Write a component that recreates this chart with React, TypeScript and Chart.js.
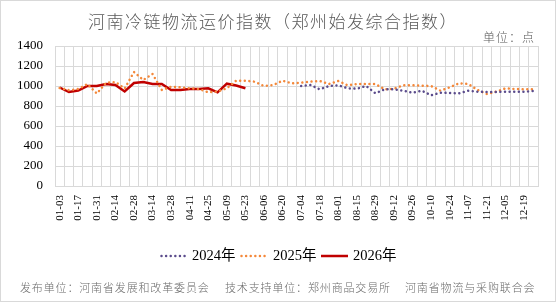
import { useEffect, useRef } from 'react';
import { Chart, registerables } from 'chart.js';

Chart.register(...registerables);

// Weekly categories (month-day)
const weeks = [
  '01-03', '01-10', '01-17', '01-24', '01-31', '02-07', '02-14', '02-21', '02-28', '03-07',
  '03-14', '03-21', '03-28', '04-04', '04-11', '04-18', '04-25', '05-02', '05-09', '05-16',
  '05-23', '05-30', '06-06', '06-13', '06-20', '06-27', '07-04', '07-11', '07-18', '07-25',
  '08-01', '08-08', '08-15', '08-22', '08-29', '09-05', '09-12', '09-19', '09-26', '10-03',
  '10-10', '10-17', '10-24', '10-31', '11-07', '11-14', '11-21', '11-28', '12-05', '12-12',
  '12-19', '12-26',
];

// 2024 index: series begins in July
const index2024 = [
  null, null, null, null, null, null, null, null, null, null,
  null, null, null, null, null, null, null, null, null, null,
  null, null, null, null, null, null,
  1000, 1010, 967, 1000, 1007, 977, 973, 1000, 927, 967,
  967, 953, 933, 953, 907, 933, 930, 927, 953, 943,
  940, 940, 943, 943, 943, 950,
];

const index2025 = [
  980, 958, 970, 1020, 925, 1033, 1040, 975, 1140, 1060,
  1120, 960, 993, 987, 977, 970, 937, 945, 977, 1053,
  1053, 1043, 1000, 1010, 1053, 1027, 1033, 1043, 1050, 1020,
  1050, 1007, 1020, 1020, 1020, 967, 973, 1007, 1007, 1003,
  1000, 953, 987, 1027, 1020, 960, 920, 943, 977, 970,
  967, 967,
];

const index2026 = [
  985, 940, 955, 1000, 1000, 1020, 1010, 945, 1030, 1040,
  1020, 1020, 960, 960, 970, 970, 977, 937, 1023, 1005,
  978,
];

const yTicks = [0, 200, 400, 600, 800, 1000, 1200, 1400];

const titleText = '河南冷链物流运价指数（郑州始发综合指数）';
const unitText = '单位：点';
const footerParts = [
  '发布单位：河南省发展和改革委员会',
  '技术支持单位：郑州商品交易所',
  '河南省物流与采购联合会',
];

const PURPLE = '#5B4C8C';
const ORANGE = '#F4883A';
const RED = '#C00000';
const GRID = '#d9d9d9';
const CJK = '"Noto Sans CJK SC", sans-serif';
const SERIF = '"Liberation Serif", "Times New Roman", "Noto Sans CJK SC", serif';

function drawSpaced(ctx: CanvasRenderingContext2D, text: string, x: number, y: number, advance: number) {
  Array.from(text).forEach((ch, k) => ctx.fillText(ch, x + k * advance, y));
}

const decorations = {
  id: 'decorations',
  beforeDraw(chart: any) {
    const ctx = chart.ctx as CanvasRenderingContext2D;
    ctx.save();
    ctx.fillStyle = '#ffffff';
    ctx.fillRect(0, 0, chart.width, chart.height);
    ctx.restore();
  },
  afterDraw(chart: any) {
    const ctx = chart.ctx as CanvasRenderingContext2D;
    ctx.save();
    ctx.textAlign = 'left';
    ctx.textBaseline = 'middle';

    // title
    ctx.fillStyle = '#595959';
    ctx.font = `300 17px ${CJK}`;
    drawSpaced(ctx, titleText, 88, 22, 18.5);

    // unit
    ctx.fillStyle = '#595959';
    ctx.font = `300 12px ${CJK}`;
    drawSpaced(ctx, unitText, 483, 37, 13);

    // legend
    const ly = 256;
    const items = [
      { label: '2024年', color: PURPLE, dotted: true, x0: 160, x1: 186, tx: 192 },
      { label: '2025年', color: ORANGE, dotted: true, x0: 240, x1: 266, tx: 273 },
      { label: '2026年', color: RED, dotted: false, x0: 321, x1: 348, tx: 353 },
    ];
    items.forEach((it) => {
      ctx.save();
      ctx.strokeStyle = it.color;
      ctx.lineWidth = 2.5;
      if (it.dotted) {
        ctx.lineCap = 'round';
        ctx.setLineDash([0.01, 4.6]);
      }
      ctx.beginPath();
      ctx.moveTo(it.x0 + (it.dotted ? 1.5 : 0), ly);
      ctx.lineTo(it.x1, ly);
      ctx.stroke();
      ctx.restore();
      ctx.fillStyle = '#000000';
      ctx.font = `14.5px ${SERIF}`;
      ctx.fillText(it.label, it.tx, ly);
    });

    // footer
    ctx.fillStyle = '#6a6a6a';
    ctx.font = `300 11px ${CJK}`;
    drawSpaced(ctx, footerParts[0], 20, 288, 11.85);
    drawSpaced(ctx, footerParts[1], 225, 288, 11.85);
    drawSpaced(ctx, footerParts[2], 405, 288, 11.85);

    // outer frame
    ctx.strokeStyle = GRID;
    ctx.lineWidth = 1;
    ctx.strokeRect(0.5, 0.5, chart.width - 1, chart.height - 1);
    ctx.restore();
  },
};

export default function App() {
  const canvasRef = useRef<HTMLCanvasElement | null>(null);

  useEffect(() => {
    const canvas = canvasRef.current;
    if (!canvas) return;
    const chart = new Chart(canvas, {
      type: 'line',
      data: {
        labels: weeks,
        datasets: [
          {
            label: '2024年',
            data: index2024,
            borderColor: PURPLE,
            borderWidth: 2.5,
            borderCapStyle: 'round',
            borderDash: [0.01, 4.6],
            pointRadius: 0,
            fill: false,
            tension: 0,
          },
          {
            label: '2025年',
            data: index2025,
            borderColor: ORANGE,
            borderWidth: 2.5,
            borderCapStyle: 'round',
            borderDash: [0.01, 4.6],
            pointRadius: 0,
            fill: false,
            tension: 0,
          },
          {
            label: '2026年',
            data: index2026,
            borderColor: RED,
            borderWidth: 2.5,
            pointRadius: 0,
            fill: false,
            tension: 0,
          },
        ],
      },
      options: {
        responsive: false,
        animation: false,
        devicePixelRatio: 1,
        layout: { padding: { left: 0, right: 18, top: 46, bottom: 76 } },
        plugins: {
          legend: { display: false },
          title: { display: false },
          tooltip: { enabled: false },
        },
        scales: {
          x: {
            offset: true,
            grid: { offset: true, color: GRID, drawTicks: false, lineWidth: 1 },
            border: { color: GRID },
            ticks: {
              autoSkip: false,
              minRotation: 90,
              maxRotation: 90,
              padding: 9,
              color: '#000000',
              font: { family: SERIF, size: 11 },
              callback: (_v: any, i: number) => (i % 2 === 0 ? weeks[i] : ''),
            },
            afterFit: (scale: any) => {
              scale.height = 40;
            },
          },
          y: {
            min: yTicks[0],
            max: yTicks[yTicks.length - 1],
            afterBuildTicks: (scale: any) => {
              scale.ticks = yTicks.map((v) => ({ value: v }));
            },
            grid: { color: GRID, drawTicks: false },
            border: { color: GRID },
            ticks: {
              padding: 12,
              color: '#000000',
              font: { family: SERIF, size: 13 },
              callback: (v: any) => String(v),
            },
            afterFit: (scale: any) => {
              scale.width = 55;
            },
          },
        },
      },
      plugins: [decorations],
    });
    return () => chart.destroy();
  }, []);

  return (
    <div style={{ position: 'absolute', left: 0, top: 0, width: 556, height: 302 }}>
      <canvas ref={canvasRef} width={556} height={302} style={{ display: 'block', width: 556, height: 302 }} />
    </div>
  );
}
